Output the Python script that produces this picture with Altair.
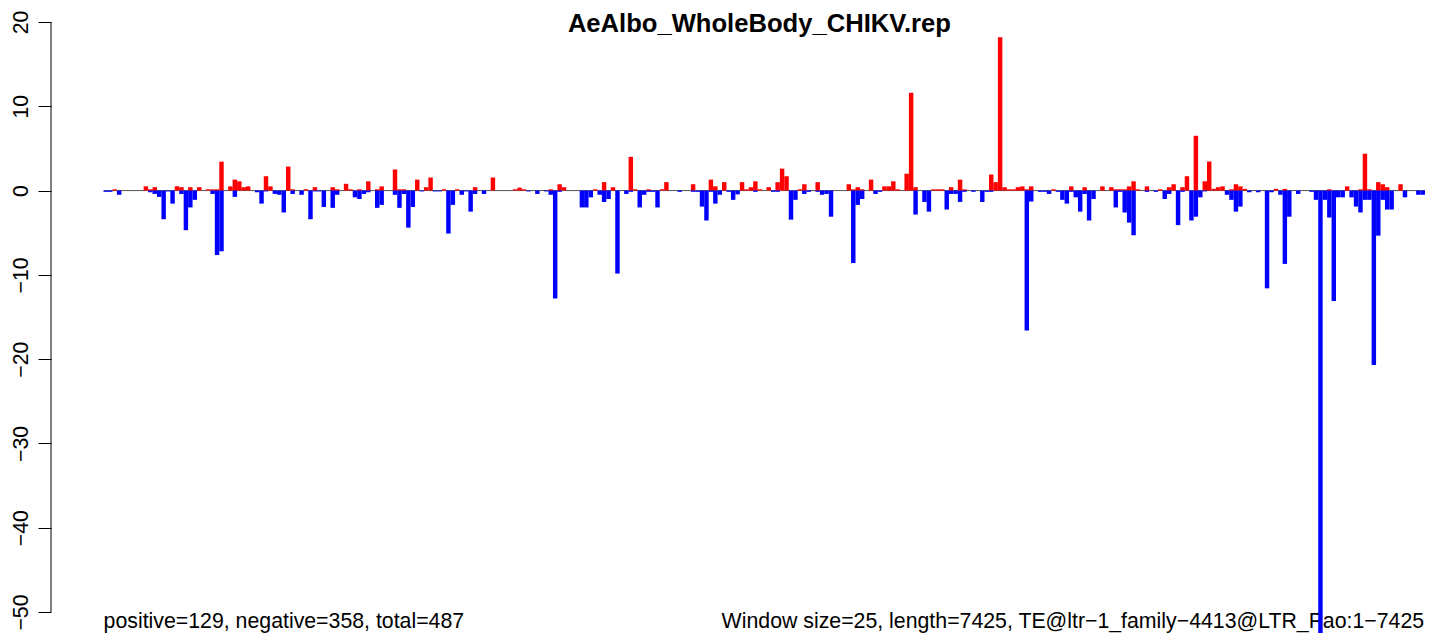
import altair as alt
import pandas as pd

# Window values (window size 25, length 7425 -> 297 windows)
pos = [0, 0, 0.15, 0, 0, 0, 0, 0, 0, 0.5,
       0.15, 0.4, 0, 0, 0, 0, 0.5, 0.4, 0, 0.4,
       0, 0.4, 0, 0.15, 0.15, 0.15, 3.43, 0, 0.5, 1.3,
       1.1, 0.4, 0.5, 0, 0, 0, 1.7, 0.5, 0, 0,
       0, 2.85, 0.15, 0, 0, 0.15, 0, 0.4, 0, 0,
       0, 0.4, 0.15, 0, 0.8, 0.15, 0, 0.15, 0, 1.1,
       0, 0.15, 0.5, 0, 0, 2.5, 0.15, 0.15, 0, 0,
       1.3, 0, 0.4, 1.55, 0, 0, 0.15, 0, 0, 0.15,
       0, 0, 0, 0.4, 0, 0, 0, 1.55, 0, 0,
       0, 0, 0.15, 0.35, 0.15, 0, 0, 0, 0, 0,
       0.15, 0, 0.75, 0.4, 0, 0, 0, 0, 0, 0,
       0.15, 0, 1.0, 0, 0.4, 0, 0, 0, 4.0, 0.15,
       0, 0, 0.15, 0, 0, 0.15, 1.0, 0, 0, 0,
       0, 0, 0.75, 0, 0, 0, 1.3, 0.5, 0, 1.0,
       0, 0, 0, 1.0, 0.15, 0.4, 1.1, 0.15, 0, 0.4,
       0, 1.0, 2.6, 1.7, 0, 0, 0.15, 0.75, 0, 0,
       1.0, 0, 0, 0, 0, 0, 0, 0.75, 0.15, 0.4,
       0.15, 0, 1.3, 0, 0, 0.5, 0.5, 1.1, 0.15, 0,
       2.0, 11.6, 0.4, 0, 0, 0, 0.15, 0.15, 0.15, 0,
       0.4, 0, 1.3, 0.15, 0, 0, 0, 0, 0, 1.9,
       1.0, 18.2, 0.4, 0.15, 0.15, 0.4, 0.5, 0.15, 0.5, 0,
       0, 0, 0, 0.15, 0, 0, 0, 0.5, 0, 0,
       0.4, 0, 0, 0, 0.5, 0, 0.4, 0.15, 0.15, 0.15,
       0.5, 1.1, 0.15, 0, 0.5, 0, 0, 0.15, 0, 0.4,
       0.75, 0, 0.4, 1.7, 0, 6.5, 0, 1.1, 3.45, 0.2,
       0.4, 0.5, 0, 0.15, 0.75, 0.5, 0.2, 0, 0, 0,
       0, 0, 0, 0.2, 0, 0.2, 0, 0, 0, 0,
       0, 0, 0, 0, 0, 0.15, 0, 0, 0, 0.5,
       0, 0, 0.15, 4.37, 0.15, 0, 1.0, 0.75, 0.4, 0,
       0, 0.75, 0, 0, 0, 0, 0]

neg = [-0.15, -0.15, 0, -0.5, 0, 0, 0, 0, 0, 0,
       -0.2, -0.4, -0.75, -3.4, -0.1, -1.55, 0, -0.4, -4.7, -2.0,
       -1.1, 0, 0, 0, -0.4, -7.65, -7.2, 0, 0, -0.75,
       0, 0, 0, 0, -0.2, -1.55, -0.1, 0, -0.4, -0.5,
       -2.6, 0, -0.4, 0, -0.5, 0, -3.4, -0.1, -0.1, -1.95,
       0, -2.05, -0.5, 0, 0, 0, -0.8, -1.0, -0.4, -0.2,
       0, -2.05, -1.7, 0, 0, -0.5, -2.05, -0.4, -4.4, -1.95,
       0, -0.1, 0, 0, -0.1, -0.1, 0, -5.1, -1.7, 0,
       -0.5, -0.1, -2.5, -0.4, 0, -0.4, 0, 0, 0, 0,
       0, 0, 0, 0, 0, -0.1, 0, -0.4, 0, -0.1,
       -0.5, -12.8, -0.15, 0, 0, 0, 0, -2.0, -2.0, -0.8,
       0, -0.5, -1.35, -1.0, 0, -9.85, 0, -0.4, -0.15, 0,
       -2.0, -0.5, -0.15, -0.15, -2.0, 0, 0, 0, 0, -0.15,
       0, 0, -0.15, -0.15, -1.9, -3.55, -0.15, -1.55, -0.5, 0,
       -0.15, -1.1, -0.45, 0, 0, 0, -0.15, 0, 0, 0,
       -0.15, -0.15, 0, 0, -3.45, -1.1, 0, -0.4, -0.15, 0,
       -0.15, -0.5, -0.4, -3.1, 0, 0, 0, 0, -8.6, -1.7,
       -1.0, 0, 0, -0.4, -0.15, 0, 0, 0, 0, 0,
       0, 0, -2.85, 0, -1.35, -2.5, 0, 0, 0, -2.25,
       -0.4, -0.4, -1.35, -0.15, 0, -0.15, 0, -1.35, -0.15, -0.15,
       0, 0, 0, 0, 0, 0, 0, -16.6, -1.3, 0,
       -0.15, -0.15, -0.4, 0, -0.15, -1.1, -1.55, -0.15, -0.8, -2.5,
       -0.4, -3.55, -1.0, 0, 0, 0, 0, -2.0, -0.15, -2.6,
       -3.8, -5.3, 0, 0, -0.15, 0, -0.15, 0, -1.0, -0.4,
       0, -4.1, -0.15, 0, -3.55, -3.1, -0.8, -0.1, 0, 0,
       0, 0, -0.5, -1.1, -2.5, -1.9, 0, -0.2, 0, -0.2,
       0, -11.6, -0.2, 0, -0.5, -8.7, -3.1, 0, -0.4, 0,
       0, -0.15, -1.1, -55.0, -1.1, -3.2, -13.1, -0.8, -0.8, 0,
       -0.8, -1.9, -2.6, -1.1, -1.1, -20.7, -5.35, -1.1, -2.25, -2.25,
       0, 0, -0.8, 0, 0, -0.5, -0.5]

title_text = "AeAlbo_WholeBody_CHIKV.rep"
left_note = "positive=129, negative=358, total=487"
right_note = "Window size=25, length=7425, TE@ltr\u22121_family\u22124413@LTR_Pao:1\u22127425"
y_ticks = [-50, -40, -30, -20, -10, 0, 10, 20]

n = len(pos)
df = pd.DataFrame({"k": list(range(n)), "pos": pos, "neg": neg[:n]})
df["k1"] = df["k"] + 1

FONT = "Liberation Sans"
xs = alt.Scale(domain=[-11.82, 297.0], nice=False, zero=False)
ys = alt.Scale(domain=[-52.49, 21.66], nice=False, zero=False)

base = alt.Chart(df)

zero_line = alt.Chart(pd.DataFrame({"a": [0], "b": [n], "y": [0]})).mark_rule(
    color="#555555", strokeWidth=1
).encode(
    x=alt.X("a:Q", scale=xs, axis=None),
    x2="b:Q",
    y=alt.Y("y:Q", scale=ys,
            axis=alt.Axis(values=y_ticks, domain=False, grid=False, ticks=True,
                          tickSize=13, tickColor="black", tickWidth=1,
                          labelAngle=-90, labelAlign="center",
                          labelBaseline="alphabetic", labelPadding=10.5,
                          labelFontSize=21.3, labelFont=FONT, labelColor="black",
                          title=None)),
)

texts = pd.DataFrame({
    "x": [147.4, 0.0, 296.8],
    "y": [18.81, -51.89, -51.89],
    "t": [title_text, left_note, right_note],
})
title_mark = alt.Chart(texts.iloc[[0]]).mark_text(
    font=FONT, fontSize=25.6, fontWeight="bold", align="center",
    baseline="alphabetic", color="black"
).encode(x=alt.X("x:Q", scale=xs), y=alt.Y("y:Q", scale=ys), text="t:N")
left_mark = alt.Chart(texts.iloc[[1]]).mark_text(
    font=FONT, fontSize=21.3, align="left", baseline="alphabetic", color="black"
).encode(x=alt.X("x:Q", scale=xs), y=alt.Y("y:Q", scale=ys), text="t:N")
right_mark = alt.Chart(texts.iloc[[2]]).mark_text(
    font=FONT, fontSize=21.3, align="right", baseline="alphabetic", color="black"
).encode(x=alt.X("x:Q", scale=xs), y=alt.Y("y:Q", scale=ys), text="t:N")

pos_bars = base.transform_filter("datum.pos > 0").mark_rect(
    color="#FF0000", clip=True
).encode(x=alt.X("k:Q", scale=xs), x2="k1:Q",
         y=alt.Y("pos:Q", scale=ys), y2=alt.datum(0))
neg_bars = base.transform_filter("datum.neg < 0").mark_rect(
    color="#0000FF", clip=True
).encode(x=alt.X("k:Q", scale=xs), x2="k1:Q",
         y=alt.Y("neg:Q", scale=ys), y2=alt.datum(0))

axis_line = alt.Chart(pd.DataFrame({"lo": [-50], "hi": [20]})).mark_rule(
    color="black", strokeWidth=1
).encode(x=alt.value(0), y=alt.Y("lo:Q", scale=ys), y2="hi:Q")

chart = alt.layer(
    zero_line, title_mark, left_mark, right_mark, pos_bars, neg_bars, axis_line
).properties(
    width=1374, height=625,
    background="white",
    autosize=alt.AutoSizeParams(type="none"),
    padding={"left": 43, "top": 0, "right": 0, "bottom": 0},
).configure_view(strokeWidth=0, stroke="transparent")

chart.save("out.html", embed_options={"renderer": "svg", "actions": False})
